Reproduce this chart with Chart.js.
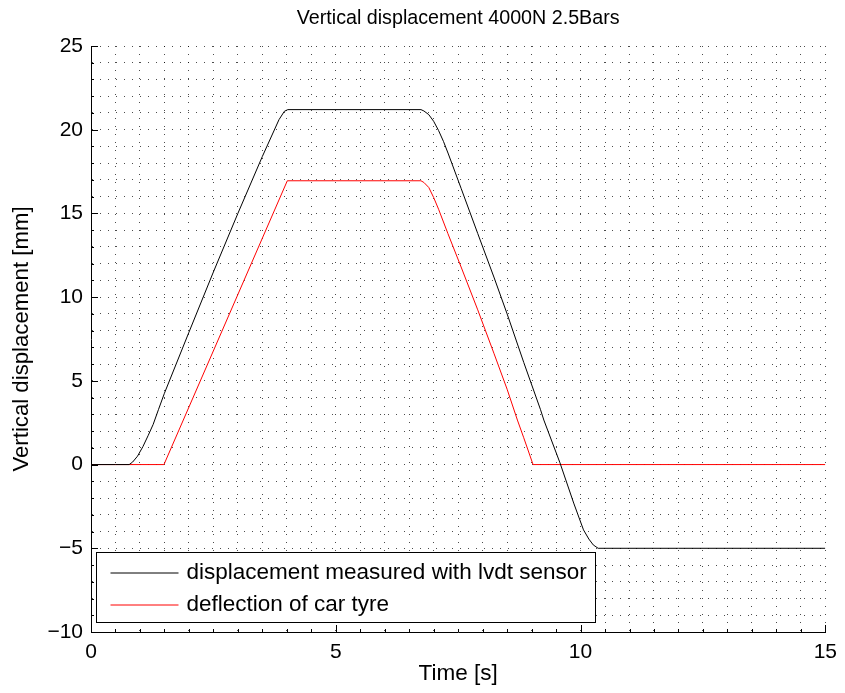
<!DOCTYPE html>
<html>
<head>
<meta charset="utf-8">
<script src="https://cdn.jsdelivr.net/npm/chart.js@4/dist/chart.umd.min.js"></script>
<style>
  html, body { margin: 0; padding: 0; background: #fff; }
  #wrap { width: 845px; height: 693px; }
</style>
</head>
<body>
<div id="wrap"><canvas id="c" width="845" height="693"></canvas></div>
<script>
// ---- data ----
const chartTitle = 'Vertical displacement 4000N 2.5Bars';
const xTitle = 'Time [s]';
const yTitle = 'Vertical displacement [mm]';
const seriesNames = ['displacement measured with lvdt sensor', 'deflection of car tyre'];

const timeLvdt = [0, 0.5, 0.78, 0.85, 0.95, 1.06, 1.17, 1.27, 1.38, 1.5, 2.0, 2.5, 3.0, 3.5, 3.84, 3.95, 4.02,
                  6.74, 6.8, 6.9, 7.0, 7.1, 7.2, 7.3, 7.56, 7.9, 8.23, 8.5, 8.84, 9.18, 9.25, 9.58, 9.86, 10.06, 10.17, 10.26, 10.36, 12, 15];
const valLvdt  = [0, 0, 0, 0.15, 0.5, 1.07, 1.75, 2.4, 3.3, 4.26, 7.9, 11.5, 15.0, 18.4, 20.6, 21.1, 21.2,
                  21.2, 21.12, 20.9, 20.5, 19.95, 19.3, 18.55, 16.5, 13.8, 11.2, 9.0, 6.1, 3.3, 2.66, 0.1, -2.3, -3.9, -4.45, -4.8, -5.0, -5.0, -5.0];

const timeTyre = [0, 1.49, 4.01, 6.74, 6.8, 6.9, 7.0, 7.1, 7.29, 7.56, 7.9, 8.23, 8.5, 8.71, 8.84, 9.03, 15];
const valTyre  = [0, 0, 16.95, 16.95, 16.85, 16.55, 15.95, 15.25, 13.8, 11.8, 9.24, 6.65, 4.5, 2.66, 1.6, 0, 0];

const xMin = 0, xMax = 15, xMinorStep = 0.5, xMajorStep = 5;
const yMin = -10, yMax = 25, yMinorStep = 1, yMajorStep = 5;

const toPoints = (ts, vs) => ts.map((t, i) => ({ x: t, y: vs[i] }));
const FONT = "'Liberation Sans', Arial, Helvetica, sans-serif";
const isMajor = (v, step) => Math.abs(v / step - Math.round(v / step)) < 1e-6;
const fmt = v => (v < 0 ? '\u2212' + Math.abs(v) : String(v));

// title centred over the plot area
const plotTitle = {
  id: 'plotTitle',
  afterDraw(chart) {
    const { ctx, chartArea: a } = chart;
    ctx.save();
    ctx.font = '19.7px ' + FONT;
    ctx.fillStyle = '#000';
    ctx.textAlign = 'center';
    ctx.textBaseline = 'middle';
    ctx.fillText(chartTitle, (a.left + a.right) / 2, 19);
    ctx.restore();
  }
};

// inward ticks (MATLAB style)
const inwardTicks = {
  id: 'inwardTicks',
  afterDatasetsDraw(chart) {
    const { ctx, chartArea: a, scales: { x, y } } = chart;
    ctx.save();
    ctx.strokeStyle = '#000';
    ctx.lineWidth = 1;
    ctx.beginPath();
    for (let v = xMin; v <= xMax + 1e-9; v += xMinorStep) {
      const px = Math.round(x.getPixelForValue(v)) + 0.5;
      const len = isMajor(v, xMajorStep) ? 7 : 3;
      ctx.moveTo(px, a.bottom); ctx.lineTo(px, a.bottom - len);
    }
    for (let v = yMin; v <= yMax + 1e-9; v += yMinorStep) {
      const py = Math.round(y.getPixelForValue(v)) + 0.5;
      const len = isMajor(v, yMajorStep) ? 7 : 3;
      ctx.moveTo(a.left, py); ctx.lineTo(a.left + len, py);
    }
    ctx.stroke();
    ctx.restore();
  }
};

// boxed legend inside the plot, lower-left
const boxedLegend = {
  id: 'boxedLegend',
  afterDraw(chart) {
    const { ctx, chartArea: a } = chart;
    const bx = a.left + 5.5, by = a.bottom - 79.5, bw = 499, bh = 70;
    ctx.save();
    ctx.fillStyle = '#fff';
    ctx.fillRect(bx, by, bw, bh);
    ctx.strokeStyle = '#000';
    ctx.lineWidth = 1;
    ctx.strokeRect(bx, by, bw, bh);
    ctx.font = '22.5px ' + FONT;
    ctx.textBaseline = 'middle';
    ctx.textAlign = 'left';
    seriesNames.forEach((name, i) => {
      const ds = chart.data.datasets[i];
      const cy = by + 20.5 + i * 32;
      ctx.strokeStyle = ds.borderColor;
      ctx.beginPath();
      ctx.moveTo(bx + 14, cy); ctx.lineTo(bx + 82, cy);
      ctx.stroke();
      ctx.fillStyle = '#000';
      ctx.fillText(name, bx + 90, cy);
    });
    ctx.restore();
  }
};

const gridCommon = {
  color: 'rgba(0,0,0,0.7)',
  lineWidth: 1,
  drawTicks: false
};
const borderCommon = { display: true, color: '#000', width: 1, dash: [1, 7] };

new Chart(document.getElementById('c'), {
  type: 'scatter',
  data: {
    datasets: [
      { label: seriesNames[0], data: toPoints(timeLvdt, valLvdt), borderColor: '#000000', backgroundColor: '#000000',
        showLine: true, pointRadius: 0, borderWidth: 1, tension: 0, order: 0 },
      { label: seriesNames[1], data: toPoints(timeTyre, valTyre), borderColor: '#ff0000', backgroundColor: '#ff0000',
        showLine: true, pointRadius: 0, borderWidth: 1, tension: 0, order: 1 }
    ]
  },
  options: {
    responsive: false,
    animation: false,
    devicePixelRatio: 1,
    layout: { padding: { left: 0, right: 15, top: 46, bottom: 0 } },
    plugins: {
      legend: { display: false },
      tooltip: { enabled: false },
      title: { display: false }
    },
    scales: {
      x: {
        type: 'linear', min: xMin, max: xMax,
        afterFit(s) { s.height = 61; },
        border: borderCommon,
        grid: gridCommon,
        ticks: {
          stepSize: xMinorStep, autoSkip: false, maxRotation: 0, padding: 8, color: '#000',
          font: { family: FONT, size: 21 },
          callback: v => (isMajor(v, xMajorStep) ? fmt(v) : '')
        },
        title: { display: true, text: xTitle, color: '#000', font: { family: FONT, size: 22.5 }, padding: { top: 0, bottom: 6 } }
      },
      y: {
        type: 'linear', min: yMin, max: yMax,
        afterFit(s) { s.width = 91; },
        border: borderCommon,
        grid: gridCommon,
        ticks: {
          stepSize: yMinorStep, autoSkip: false, padding: 8, color: '#000',
          font: { family: FONT, size: 21 },
          callback: v => (isMajor(v, yMajorStep) ? fmt(v) : '')
        },
        title: { display: true, text: yTitle, color: '#000', font: { family: FONT, size: 22.2 }, padding: { top: 9, bottom: 0 } }
      }
    }
  },
  plugins: [inwardTicks, boxedLegend, plotTitle]
});
</script>
</body>
</html>
